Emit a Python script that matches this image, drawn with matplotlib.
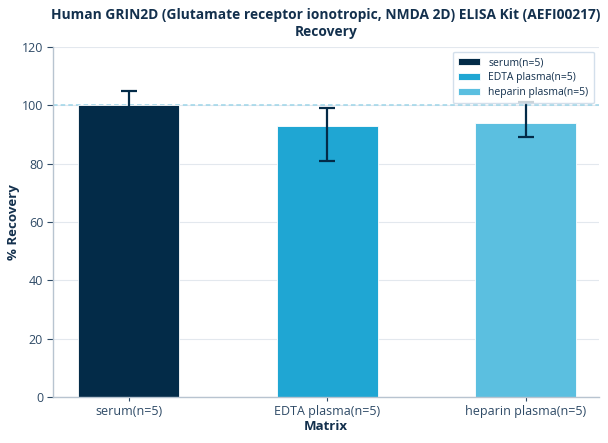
import matplotlib
matplotlib.use("Agg")
import matplotlib.pyplot as plt
import numpy as np

plt.rcParams['font.family'] = ['Open Sans', 'DejaVu Sans']

categories = ["serum(n=5)", "EDTA plasma(n=5)", "heparin plasma(n=5)"]
recovery = [100, 93, 94]
err_low = [95, 81, 89]
err_high = [105, 99, 101]
colors = ["#032B48", "#1FA6D3", "#5BBFE0"]
yticks = [0, 20, 40, 60, 80, 100, 120]

title_color = "#13304D"
tick_color = "#2E4A66"
spine_color = "#B8C4D0"

fig = plt.figure(figsize=(6.08, 4.43), dpi=100)
ax = fig.add_axes([0.087, 0.104, 0.898, 0.790])

x = np.arange(len(categories))
lower = np.array(recovery) - np.array(err_low)
upper = np.array(err_high) - np.array(recovery)

for i in range(len(categories)):
    ax.bar(x[i], recovery[i], width=0.51, color=colors[i], label=categories[i],
           edgecolor="white", linewidth=0.6, zorder=2)
ax.errorbar(x, recovery, yerr=[lower, upper], fmt='none', ecolor="#032B48",
            elinewidth=1.6, capsize=5.5, capthick=1.6, zorder=3)

ax.axhline(100, color="#9DD5E8", linestyle=(0, (3, 2)), linewidth=1.1, zorder=1)

ax.set_xlim(-0.383, 2.37)
ax.set_ylim(0, 120)
ax.set_yticks(yticks)
ax.set_xticks(x)
ax.set_xticklabels(categories)
ax.yaxis.grid(True, color="#E3E8EE", linewidth=0.8, zorder=0)
ax.set_axisbelow(True)

for s in ["top", "right"]:
    ax.spines[s].set_visible(False)
for s in ["left", "bottom"]:
    ax.spines[s].set_color(spine_color)
    ax.spines[s].set_linewidth(1.0)

ax.tick_params(axis='both', colors=tick_color, labelsize=9, length=4, width=0.8, pad=3)
ax.tick_params(axis='x', length=3)
for lab in ax.get_xticklabels() + ax.get_yticklabels():
    lab.set_color(tick_color)

ax.set_xlabel("Matrix", fontsize=9.5, fontweight='bold', color=title_color, labelpad=1)
ax.set_ylabel("% Recovery", fontsize=9.5, fontweight='bold', color=title_color, labelpad=1.5)
ax.set_title("Human GRIN2D (Glutamate receptor ionotropic, NMDA 2D) ELISA Kit (AEFI00217)\nRecovery",
             fontsize=9.9, fontweight='bold', color=title_color, pad=8, linespacing=1.3)

leg = ax.legend(loc='upper right', fontsize=7.5, frameon=True, fancybox=True,
                borderpad=0.5, handlelength=2.1, handleheight=0.75, labelspacing=0.38,
                handletextpad=0.8, borderaxespad=0.0, bbox_to_anchor=(0.9905, 0.986))
leg.get_frame().set_edgecolor("#C8D8E6")
leg.get_frame().set_linewidth(1.0)
leg.get_frame().set_boxstyle("round,pad=0,rounding_size=0.15")
for t in leg.get_texts():
    t.set_color(title_color)

fig.savefig("out.png", dpi=100)
